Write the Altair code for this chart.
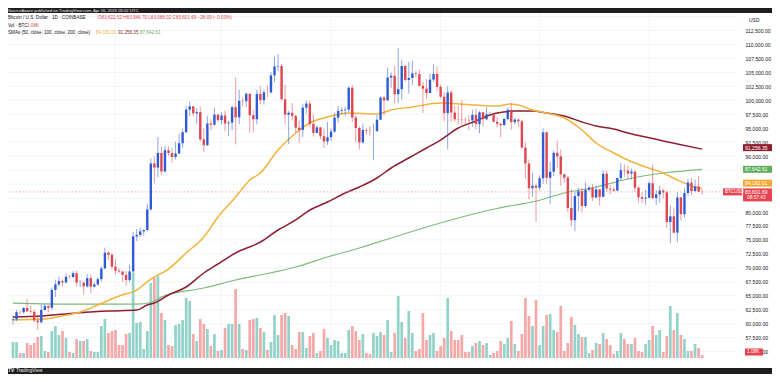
import altair as alt
import pandas as pd

FONT = "Liberation Sans"
W, H = 730, 352

# ---------------- data (prices in thousands of USD) ----------------
start_date = "2024-10-03"
n_days = 196
dates = pd.date_range(start_date, periods=n_days, freq="D").strftime("%Y-%m-%d").tolist()

opens = [
    60.65, 60.75, 62.08, 62.06, 62.82, 62.22, 62.13, 60.58, 60.27, 62.45, 63.19, 62.85, 66.05, 67.04, 67.61,
    67.39, 68.40, 68.36, 69.03, 67.37, 67.38, 66.68, 68.16, 66.62, 67.03, 67.97, 69.91, 72.72, 72.34,
    70.22, 69.49, 69.34, 68.74, 67.81, 69.36, 75.64, 75.90, 76.54, 76.78, 80.47, 88.70, 87.95, 90.58, 87.25,
    91.06, 90.56, 89.85, 90.47, 92.31, 94.29, 98.34, 98.92, 97.67, 97.90, 93.01, 91.97, 95.86, 95.64, 97.46,
    96.45, 97.28, 95.86, 96.00, 98.77, 96.95, 99.92, 99.86, 101.17, 97.33, 96.61, 101.14, 100.03, 101.43, 101.42,
    104.47, 106.06, 106.14, 100.19, 97.44, 97.76, 97.22, 95.10, 94.70, 98.68, 99.42, 95.79, 94.16, 95.15, 93.56, 92.64,
    93.39, 94.40, 96.89, 98.11, 98.23, 98.33, 102.26, 96.92, 95.04, 92.48, 94.70, 94.56, 94.50, 94.51, 96.53,
    100.50, 99.99, 104.08, 104.40, 101.10, 102.01, 106.14, 103.65, 104.00, 104.82, 104.70, 102.60, 102.08, 101.30, 103.70, 104.73,
    102.40, 100.65, 97.70, 101.40, 97.80, 96.60, 96.55, 96.50, 96.45, 96.40, 97.40, 95.75, 97.85, 96.60,
    97.50, 97.55, 96.15, 95.80, 95.55, 96.65, 98.30, 96.10, 96.55, 96.25, 91.55, 88.70, 84.25, 84.70,
    84.35, 86.05, 94.27, 86.12, 87.22, 90.60, 89.96, 86.74, 86.15, 80.73, 78.53, 82.86, 83.72, 81.07, 83.97,
    84.35, 82.60, 84.06, 82.72, 86.85, 84.20, 84.05, 83.83, 86.08, 87.50, 87.42, 86.90, 87.23, 84.35, 82.65, 82.38,
    82.55, 85.16, 82.49, 83.15, 83.84, 83.50, 78.21, 79.23, 76.30, 82.60, 79.60, 83.40, 85.28, 83.75, 84.58, 83.62,
]
closes = [
    60.75, 62.08, 62.06, 62.82, 62.22, 62.13, 60.58, 60.27, 62.45, 63.19, 62.85, 66.05, 67.04, 67.61, 67.39,
    68.40, 68.36, 69.03, 67.37, 67.38, 66.68, 68.16, 66.62, 67.03, 67.97, 69.91, 72.72, 72.34, 70.22,
    69.49, 69.34, 68.74, 67.81, 69.36, 75.64, 75.90, 76.54, 76.78, 80.47, 88.70, 87.95, 90.58, 87.25, 91.06,
    90.56, 89.85, 90.47, 92.31, 94.29, 98.34, 98.92, 97.67, 97.90, 93.01, 91.97, 95.86, 95.64, 97.46, 96.45,
    97.28, 95.86, 96.00, 98.77, 96.95, 99.92, 99.86, 101.17, 97.33, 96.61, 101.14, 100.03, 101.43, 101.42, 104.47,
    106.06, 106.14, 100.19, 97.44, 97.76, 97.22, 95.10, 94.70, 98.68, 99.42, 95.79, 94.16, 95.15, 93.56, 92.64, 93.39,
    94.40, 96.89, 98.11, 98.23, 98.33, 102.26, 96.92, 95.04, 92.48, 94.70, 94.56, 94.50, 94.51, 96.53, 100.50,
    99.99, 104.08, 104.40, 101.10, 102.01, 106.14, 103.65, 104.00, 104.82, 104.70, 102.60, 102.08, 101.30, 103.70, 104.73, 102.40,
    100.65, 97.70, 101.40, 97.80, 96.60, 96.55, 96.50, 96.45, 96.40, 97.40, 95.75, 97.85, 96.60, 97.50,
    97.55, 96.15, 95.80, 95.55, 96.65, 98.30, 96.10, 96.55, 96.25, 91.55, 88.70, 84.25, 84.70, 84.35,
    86.05, 94.27, 86.12, 87.22, 90.60, 89.96, 86.74, 86.15, 80.73, 78.53, 82.86, 83.72, 81.07, 83.97, 84.35,
    82.60, 84.06, 82.72, 86.85, 84.20, 84.05, 83.83, 86.08, 87.50, 87.42, 86.90, 87.23, 84.35, 82.65, 82.38, 82.55,
    85.16, 82.49, 83.15, 83.84, 83.50, 78.21, 79.23, 76.30, 82.60, 79.60, 83.40, 85.28, 83.75, 84.58, 83.63, 83.60,
]
highs = [
    61.45, 62.45, 62.37, 62.98, 64.45, 63.18, 62.54, 61.32, 63.42, 63.49, 63.27, 66.48, 67.88, 68.42, 67.94,
    68.97, 68.70, 69.40, 69.51, 67.82, 67.45, 68.83, 68.77, 67.43, 68.33, 70.25, 73.62, 72.96, 72.68,
    71.56, 69.92, 69.38, 69.48, 70.58, 76.40, 76.95, 77.20, 76.92, 81.50, 89.60, 89.96, 93.43, 91.77, 91.88,
    91.70, 91.45, 92.59, 94.00, 94.90, 98.95, 99.80, 98.98, 98.60, 98.87, 94.98, 97.20, 96.65, 98.70, 97.47,
    97.84, 98.17, 96.30, 99.00, 104.09, 101.90, 100.55, 101.40, 101.20, 98.30, 101.90, 102.55, 101.90, 102.65, 105.05,
    107.78, 108.27, 106.50, 102.80, 98.14, 99.52, 97.40, 96.42, 99.40, 99.96, 99.96, 97.50, 95.50, 95.20, 94.90, 96.15,
    94.95, 97.75, 98.95, 98.75, 98.80, 102.48, 102.70, 97.25, 95.35, 95.85, 94.98, 95.40, 95.85, 97.35, 100.65,
    100.85, 105.86, 104.96, 106.20, 109.35, 107.24, 106.33, 106.88, 107.10, 105.28, 105.50, 103.25, 103.80, 104.80, 106.45, 106.10,
    102.80, 101.45, 102.50, 101.75, 99.00, 99.00, 100.10, 96.90, 97.30, 98.30, 98.50, 98.10, 98.00, 98.80,
    97.95, 97.70, 97.05, 96.00, 96.90, 98.75, 99.50, 96.85, 96.70, 96.50, 92.50, 89.40, 87.05, 85.10,
    86.55, 95.00, 94.40, 88.95, 90.98, 92.80, 91.20, 86.88, 86.50, 84.10, 83.60, 84.35, 84.30, 85.30, 84.68,
    85.05, 84.75, 84.10, 87.45, 87.45, 84.85, 84.55, 86.15, 88.75, 88.55, 88.25, 87.80, 87.50, 84.60, 83.55, 83.95,
    85.50, 88.50, 83.90, 84.70, 84.20, 83.80, 81.20, 80.85, 83.55, 82.70, 84.25, 85.90, 86.10, 85.80, 86.45, 83.95,
]
lows = [
    59.85, 60.45, 61.69, 61.82, 62.12, 61.84, 60.32, 58.90, 60.06, 62.43, 62.02, 62.44, 64.80, 66.75, 66.66,
    67.18, 68.05, 68.10, 66.60, 66.57, 65.27, 66.48, 65.52, 66.50, 66.80, 67.55, 69.72, 71.42, 69.70,
    68.80, 69.05, 67.45, 66.80, 67.45, 69.06, 74.80, 75.60, 75.75, 76.50, 80.22, 85.07, 86.26, 86.60, 87.12,
    90.10, 88.74, 89.40, 90.40, 91.50, 94.10, 97.20, 97.20, 95.73, 92.60, 90.77, 91.82, 94.66, 95.40, 96.15,
    95.70, 94.44, 93.58, 94.67, 92.10, 95.75, 99.00, 98.80, 94.20, 94.25, 95.70, 99.30, 99.20, 100.60, 101.23,
    103.30, 105.30, 100.00, 95.67, 92.17, 96.40, 94.20, 92.40, 93.40, 97.60, 95.15, 93.50, 94.10, 93.00, 91.50, 92.00,
    92.75, 94.20, 96.00, 97.50, 97.25, 97.90, 96.10, 92.50, 91.20, 92.20, 93.80, 93.70, 89.26, 94.30, 96.45,
    97.30, 99.94, 102.27, 99.50, 99.50, 100.12, 103.30, 101.20, 102.75, 104.10, 102.50, 97.75, 100.28, 101.30, 103.30, 101.60,
    100.30, 96.20, 91.23, 96.15, 96.20, 95.70, 95.65, 95.70, 94.70, 95.25, 94.85, 94.10, 95.30, 96.40,
    97.25, 96.10, 95.20, 93.35, 95.50, 96.40, 94.80, 95.70, 95.25, 91.35, 86.05, 82.25, 82.75, 78.20,
    83.80, 85.05, 85.10, 81.40, 86.40, 87.80, 84.70, 85.25, 80.00, 77.45, 76.55, 80.15, 79.95, 80.80, 83.65,
    82.00, 82.45, 81.20, 82.70, 83.65, 83.20, 83.65, 83.80, 85.55, 86.30, 85.85, 85.80, 83.60, 81.65, 81.60, 81.30,
    82.45, 82.30, 81.20, 81.65, 82.40, 77.15, 74.42, 76.20, 74.60, 78.45, 78.95, 82.80, 83.05, 83.70, 83.60, 83.09,
]
# relative daily volume (1 unit ~ 0.36K BTC)
volumes = [
    16, 16, 5, 5, 15, 13, 15, 21, 22, 7, 6, 27, 32, 23, 27, 20, 6, 5, 19, 17,
    17, 19, 7, 6, 6, 32, 39, 25, 27, 28, 13, 13, 24, 25, 85, 35, 36, 9, 27, 75,
    80, 82, 45, 38, 13, 12, 33, 34, 38, 60, 57, 24, 17, 39, 34, 29, 12, 24, 7, 8,
    30, 34, 34, 69, 34, 9, 8, 38, 39, 40, 30, 26, 8, 16, 43, 23, 43, 45, 42, 13,
    9, 26, 26, 10, 22, 25, 5, 7, 29, 20, 13, 18, 17, 5, 5, 28, 32, 27, 18, 24,
    5, 4, 25, 22, 26, 23, 38, 6, 25, 62, 36, 20, 47, 25, 7, 9, 45, 18, 23, 25,
    7, 12, 20, 60, 27, 18, 18, 23, 6, 6, 12, 15, 17, 13, 15, 3, 5, 7, 17, 14,
    20, 37, 14, 7, 24, 60, 42, 32, 58, 13, 32, 43, 44, 28, 26, 52, 7, 15, 41, 33,
    24, 21, 21, 5, 8, 15, 14, 25, 19, 13, 4, 7, 25, 19, 14, 14, 20, 7, 6, 14,
    18, 32, 23, 28, 6, 22, 52, 28, 45, 23, 19, 7, 7, 14, 10, 3,
]

sma50_dates = ["2024-10-03", "2024-10-12", "2024-10-17", "2024-10-22", "2024-10-27", "2024-11-02", "2024-11-07",
               "2024-11-11", "2024-11-16", "2024-11-21", "2024-11-26", "2024-11-30", "2024-12-05", "2024-12-09",
               "2024-12-12", "2024-12-17", "2024-12-22", "2024-12-26", "2024-12-31", "2025-01-06", "2025-01-14",
               "2025-01-18", "2025-01-24", "2025-02-01", "2025-02-11", "2025-02-17", "2025-02-21", "2025-02-24",
               "2025-02-27", "2025-03-03", "2025-03-08", "2025-03-13", "2025-03-17", "2025-03-22", "2025-03-26",
               "2025-03-31", "2025-04-05", "2025-04-09", "2025-04-14", "2025-04-16"]
sma50_vals = [60.66, 60.84, 61.38, 62.09, 63.35, 64.96, 66.03, 68.00, 69.79, 72.66, 75.52, 79.10, 82.69, 85.73,
              86.98, 91.10, 94.15, 95.94, 97.01, 97.73, 97.55, 98.27, 98.80, 99.52, 99.16, 98.98, 99.34, 98.98,
              98.27, 97.73, 96.83, 94.68, 92.36, 90.57, 89.31, 88.06, 86.98, 85.73, 84.48, 84.18]

sma100_dates = ["2024-10-03", "2024-10-11", "2024-10-21", "2024-10-30", "2024-11-07", "2024-11-10", "2024-11-12",
                "2024-11-16", "2024-11-21", "2024-11-26", "2024-11-30", "2024-12-05", "2024-12-12", "2024-12-17",
                "2024-12-22", "2024-12-26", "2024-12-31", "2025-01-05", "2025-01-09", "2025-01-14", "2025-01-18",
                "2025-01-23", "2025-01-28", "2025-02-01", "2025-02-06", "2025-02-11", "2025-02-15", "2025-02-17",
                "2025-02-22", "2025-02-27", "2025-03-03", "2025-03-08", "2025-03-13", "2025-03-17", "2025-03-22",
                "2025-03-26", "2025-03-31", "2025-04-05", "2025-04-09", "2025-04-16"]
sma100_vals = [61.20, 61.38, 61.91, 62.27, 62.45, 63.35, 63.70, 65.14, 66.57, 69.08, 70.69, 72.66, 74.63, 76.78,
               78.57, 80.36, 81.79, 83.40, 84.48, 86.09, 87.88, 89.67, 91.46, 92.89, 95.04, 96.30, 97.37, 97.73,
               98.09, 98.09, 97.73, 97.19, 96.12, 95.40, 94.86, 94.15, 93.43, 92.71, 92.18, 91.26]

sma200_dates = ["2024-10-03", "2024-10-21", "2024-11-07", "2024-11-11", "2024-11-14", "2024-11-26", "2024-12-05",
                "2024-12-12", "2024-12-22", "2024-12-31", "2025-01-09", "2025-01-18", "2025-01-28", "2025-02-06",
                "2025-02-15", "2025-02-22", "2025-02-27", "2025-03-08", "2025-03-17", "2025-03-26", "2025-04-05",
                "2025-04-16"]
sma200_vals = [63.70, 63.50, 63.50, 63.80, 64.78, 66.39, 67.82, 68.72, 70.15, 71.94, 73.55, 75.34, 77.31, 78.93,
               80.36, 81.25, 81.79, 83.40, 84.48, 85.91, 86.98, 87.64]

month_starts = ["2024-11-01", "2024-12-01", "2025-01-01", "2025-02-01", "2025-03-01", "2025-04-01"]
grid_levels = [55 + 2.5 * k for k in range(25)]
price_labels = [55, 57.5, 60, 62.5, 65, 67.5, 70, 72.5, 75, 77.5, 80,
                90, 92.5, 95, 97.5, 100, 102.5, 105, 107.5, 110, 112.5]

assert len(opens) == len(closes) == len(highs) == len(lows) == len(volumes) == n_days, (
    len(opens), len(closes), len(highs), len(lows), len(volumes))
assert len(sma50_dates) == len(sma50_vals)
assert len(sma100_dates) == len(sma100_vals)
assert len(sma200_dates) == len(sma200_vals)

df = pd.DataFrame({"date": dates, "open": opens, "close": closes, "high": highs, "low": lows, "vol": volumes})

# ---------------- styling ----------------
UP, DOWN = "#2e5bd4", "#e04550"
VOL_UP, VOL_DOWN = "#93d2c9", "#f4a8a8"
C50, C100, C200 = "#f2b23c", "#8e1f2f", "#7eba7b"
TXT = "#131722"
AX_FS = 5.1

price_scale = alt.Scale(domain=[53.50, 116.53], nice=False, zero=False)
vol_scale = alt.Scale(domain=[-2, 350], nice=False, zero=False)
x_scale = alt.Scale(
    type="utc",
    domain=[alt.DateTime(year=2024, month=10, date=3, utc=True),
            alt.DateTime(year=2025, month=4, date=24, hours=17, minutes=45, utc=True)],
    nice=False,
)

x_axis = alt.Axis(
    values=[alt.DateTime(year=int(s[:4]), month=int(s[5:7]), date=1, utc=True) for s in month_starts],
    labelExpr="utcmonth(datum.value) == 0 ? utcFormat(datum.value, '%Y') : utcFormat(datum.value, '%b')",
    grid=False, ticks=False, domain=False, labelFontSize=5.4, labelColor=TXT, labelFont=FONT,
    labelPadding=1, title=None, labelOverlap=False,
)
y_axis = alt.Axis(
    orient="right", values=price_labels, labelExpr="format(datum.value * 1000, ',.2f')",
    grid=False, ticks=False, domain=False, labelAlign="left", labelBaseline="middle",
    labelPadding=7, labelFontSize=AX_FS, labelColor=TXT, labelFont=FONT, title=None, labelOverlap=False,
)

up_cond = alt.datum.close >= alt.datum.open

layers = []

# grid
layers.append(alt.Chart(pd.DataFrame({"g": grid_levels})).mark_rule(color="#f0f2f6", strokeWidth=0.8).encode(
    y=alt.Y("g:Q", scale=price_scale, axis=None)))
layers.append(alt.Chart(pd.DataFrame({"date": month_starts})).mark_rule(color="#f0f2f6", strokeWidth=0.8).encode(
    x=alt.X("date:T", scale=x_scale, axis=None)))

# volume
layers.append(alt.Chart(df).mark_bar(size=2.7).encode(
    x=alt.X("date:T", scale=x_scale, axis=None),
    y=alt.Y("vol:Q", scale=vol_scale, axis=None),
    color=alt.condition(up_cond, alt.value(VOL_UP), alt.value(VOL_DOWN)),
))

# moving averages
for d_, v_, c_, w_ in [(sma200_dates, sma200_vals, C200, 1.2), (sma100_dates, sma100_vals, C100, 1.5),
                       (sma50_dates, sma50_vals, C50, 1.5)]:
    layers.append(alt.Chart(pd.DataFrame({"date": d_, "v": v_})).mark_line(
        color=c_, strokeWidth=w_, interpolate="monotone").encode(
        x=alt.X("date:T", scale=x_scale, axis=None),
        y=alt.Y("v:Q", scale=price_scale, axis=None)))

# last price line
layers.append(alt.Chart(pd.DataFrame({"v": [closes[-1]]})).mark_rule(
    color="#e8a0a6", strokeWidth=0.8, strokeDash=[1.5, 2]).encode(
    y=alt.Y("v:Q", scale=price_scale, axis=None)))

# candles
layers.append(alt.Chart(df).mark_rule(strokeWidth=0.9, opacity=0.6).encode(
    x=alt.X("date:T", scale=x_scale, axis=None),
    y=alt.Y("low:Q", scale=price_scale, axis=None),
    y2="high:Q",
    color=alt.condition(up_cond, alt.value(UP), alt.value(DOWN)),
))
layers.append(alt.Chart(df).mark_bar(size=2.4).encode(
    x=alt.X("date:T", scale=x_scale, axis=x_axis),
    y=alt.Y("open:Q", scale=price_scale, axis=y_axis),
    y2="close:Q",
    color=alt.condition(up_cond, alt.value(UP), alt.value(DOWN)),
))


def label(text, x, y, color=TXT, size=4.6, align="left", weight="normal"):
    return alt.Chart(pd.DataFrame({"t": [text]})).mark_text(
        align=align, baseline="middle", fontSize=size, font=FONT, color=color, fontWeight=weight
    ).encode(text="t:N", x=alt.value(x), y=alt.value(y))


def box(x0, x1, y0, y1, color):
    return alt.Chart(pd.DataFrame({"k": [0]})).mark_rect(color=color).encode(
        x=alt.value(x0), x2=alt.value(x1), y=alt.value(y0), y2=alt.value(y1))


def tag(value, text, color, scale, dy=0.0, h=7.0, x0=735, x1=764, extra=None, fs=AX_FS):
    d = pd.DataFrame({"v": [value], "t": [text]})
    top = dy - h / 2
    bot = dy + h / 2 + (6 if extra else 0)
    out = [
        alt.Chart(d).mark_rect(color=color, yOffset=top, y2Offset=bot).encode(
            x=alt.value(x0), x2=alt.value(x1),
            y=alt.Y("v:Q", scale=scale, axis=None), y2="v:Q"),
        alt.Chart(d).mark_text(align="left", baseline="middle", dy=dy, fontSize=fs, font=FONT,
                               color="white").encode(
            x=alt.value(x0 + 2), y=alt.Y("v:Q", scale=scale, axis=None), text="t:N"),
    ]
    if extra:
        out.append(alt.Chart(pd.DataFrame({"v": [value], "t": [extra]})).mark_text(
            align="left", baseline="middle", dy=dy + 6, fontSize=fs - 0.3, font=FONT, color="white").encode(
            x=alt.value(x0 + 4), y=alt.Y("v:Q", scale=scale, axis=None), text="t:N"))
    return out


layers += tag(91.25635, "91,256.35", C100, price_scale, dy=-1.5)
layers += tag(87.64261, "87,642.61", "#5fae5c", price_scale)
layers += tag(84.18201, "84,182.01", "#f5a731", price_scale, dy=-5.5)
layers += tag(83.60169, "83,601.69", "#e8444f", price_scale, extra="08:57:43")
layers += tag(83.60169, "BTCUSD", "#e8444f", price_scale, x0=715, x1=734, fs=4.6)
layers += tag(3, "1.08K", "#e8444f", vol_scale, dy=-3, x0=737, x1=755, fs=4.8)

# texts
layers.append(label("USD", 741, 12, size=5.0))
layers.append(label("Bitcoin / U.S. Dollar · 1D · COINBASE", 0, 10))
layers.append(label("O83,622.52  H83,946.70  L83,088.02  C83,601.69  −28.09 (−0.03%)", 90, 10, color=DOWN))
layers.append(label("Vol · BTC", 0, 17.5))
layers.append(label("1.08K", 19, 17.5, color=DOWN))
layers.append(label("SMAs (50, close, 100, close, 200, close)", 0, 25))
layers.append(label("84,182.01", 88, 25, color=C50))
layers.append(label("91,256.35", 110, 25, color=C100))
layers.append(label("87,642.61", 132, 25, color="#5fae5c"))

# header / footer bands
layers.append(box(-8, 764, 0, 5, "#1e1e1e"))
layers.append(label("SourceAware published on TradingView.com, Apr 16, 2025 05:02 UTC", 0, 2.6, color="#e8e8e8", size=4.2))
layers.append(box(-8, 764, 360, 366, "#1e1e1e"))
layers.append(label("TV", 0, 363, color="white", size=4.8, weight="bold"))
layers.append(label("TradingView", 8, 363, color="#e8e8e8", size=4.8))

chart = alt.layer(*layers).resolve_scale(y="independent").properties(
    width=W, height=H,
    padding={"left": 0, "top": 0, "right": 34, "bottom": 14},
    autosize=alt.AutoSizeParams(type="none"),
    background="white",
).configure_view(stroke=None)

chart.save("out.html", embed_options={"renderer": "svg", "actions": False})
